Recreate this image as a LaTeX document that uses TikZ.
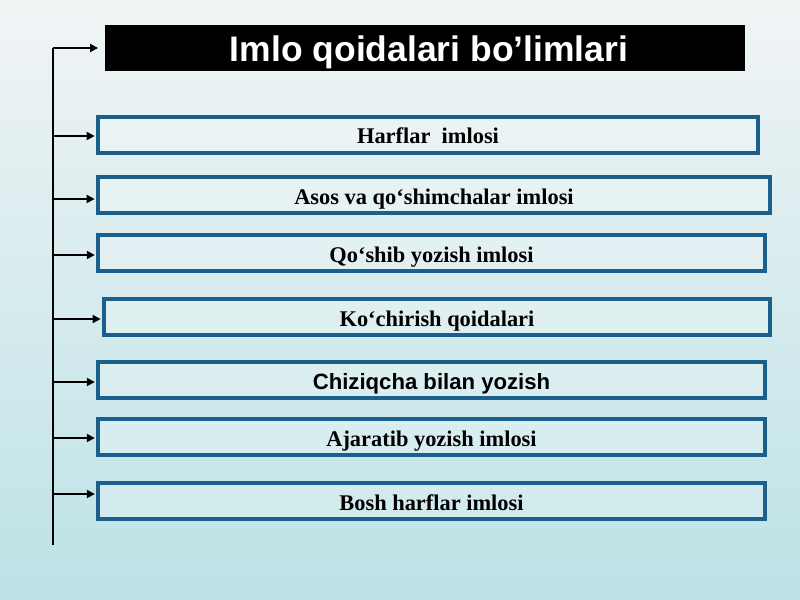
\documentclass[tikz,border=0pt]{standalone}
\usepackage{fontspec}
\setmainfont{Liberation Serif}
\setsansfont{Liberation Sans}
\usetikzlibrary{arrows.meta}
\definecolor{bgtop}{HTML}{F1F4F5}
\definecolor{bgbot}{HTML}{BCE2E6}
\definecolor{boxline}{HTML}{1B5F8D}
\begin{document}
\begin{tikzpicture}[x=0.75pt,y=-0.75pt,
  itembox/.style={draw=boxline, line width=3pt, fill=white, fill opacity=0.25, text opacity=1,
    minimum height=27pt, inner sep=0pt, text height=14pt, text depth=0pt,
    font=\bfseries\fontsize{16.8}{19}\selectfont, text=black},
  titlebox/.style={fill=black, minimum width=480pt, minimum height=34.5pt, inner sep=0pt,
    text height=19.5pt, text depth=0pt,
    text=white, font=\sffamily\bfseries\fontsize{26.6}{30}\selectfont},
  arr/.style={draw=black, line width=1.4pt, -{Triangle[length=6pt,width=6pt]}},
  trunk/.style={draw=black, line width=1.5pt}]
\shade[top color=bgtop, bottom color=bgbot] (0,0) rectangle (800,600);
\useasboundingbox (0,0) rectangle (800,600);
\node[titlebox] (title) at (425,48) {\hspace*{6pt}Imlo qoidalari bo’limlari};
\node[itembox, minimum width=495pt] (b1) at (428,134.5) {Harflar\ \ imlosi};
\node[itembox, minimum width=504pt] (b2) at (434,195) {Asos va qo‘shimchalar imlosi};
\node[itembox, minimum width=500pt] (b3) at (431.5,253) {Qo‘shib yozish imlosi};
\node[itembox, minimum width=499.5pt] (b4) at (437,317) {Ko‘chirish qoidalari};
\node[itembox, minimum width=500pt, font=\sffamily\bfseries\fontsize{16.6}{19}\selectfont] (b5) at (431.5,380) {Chiziqcha bilan yozish};
\node[itembox, minimum width=500pt] (b6) at (431.5,437) {Ajaratib yozish imlosi};
\node[itembox, minimum width=500pt] (b7) at (431.5,501) {Bosh harflar imlosi};
\coordinate (ttop) at (53,48);
\coordinate (tbot) at (53,545);
\draw[trunk] (tbot) -- (ttop);
\coordinate (t1) at (53,136);
\coordinate (t2) at (53,199);
\coordinate (t3) at (53,255);
\coordinate (t4) at (53,319);
\coordinate (t5) at (53,382);
\coordinate (t6) at (53,438);
\coordinate (t7) at (53,494);
\draw[arr] (ttop) -- ([xshift=-5pt]ttop -| title.west);
\foreach \i in {1,...,7}{
  \draw[arr] (t\i) -- ([xshift=-1pt]t\i -| b\i.west);
}
\end{tikzpicture}
\end{document}
